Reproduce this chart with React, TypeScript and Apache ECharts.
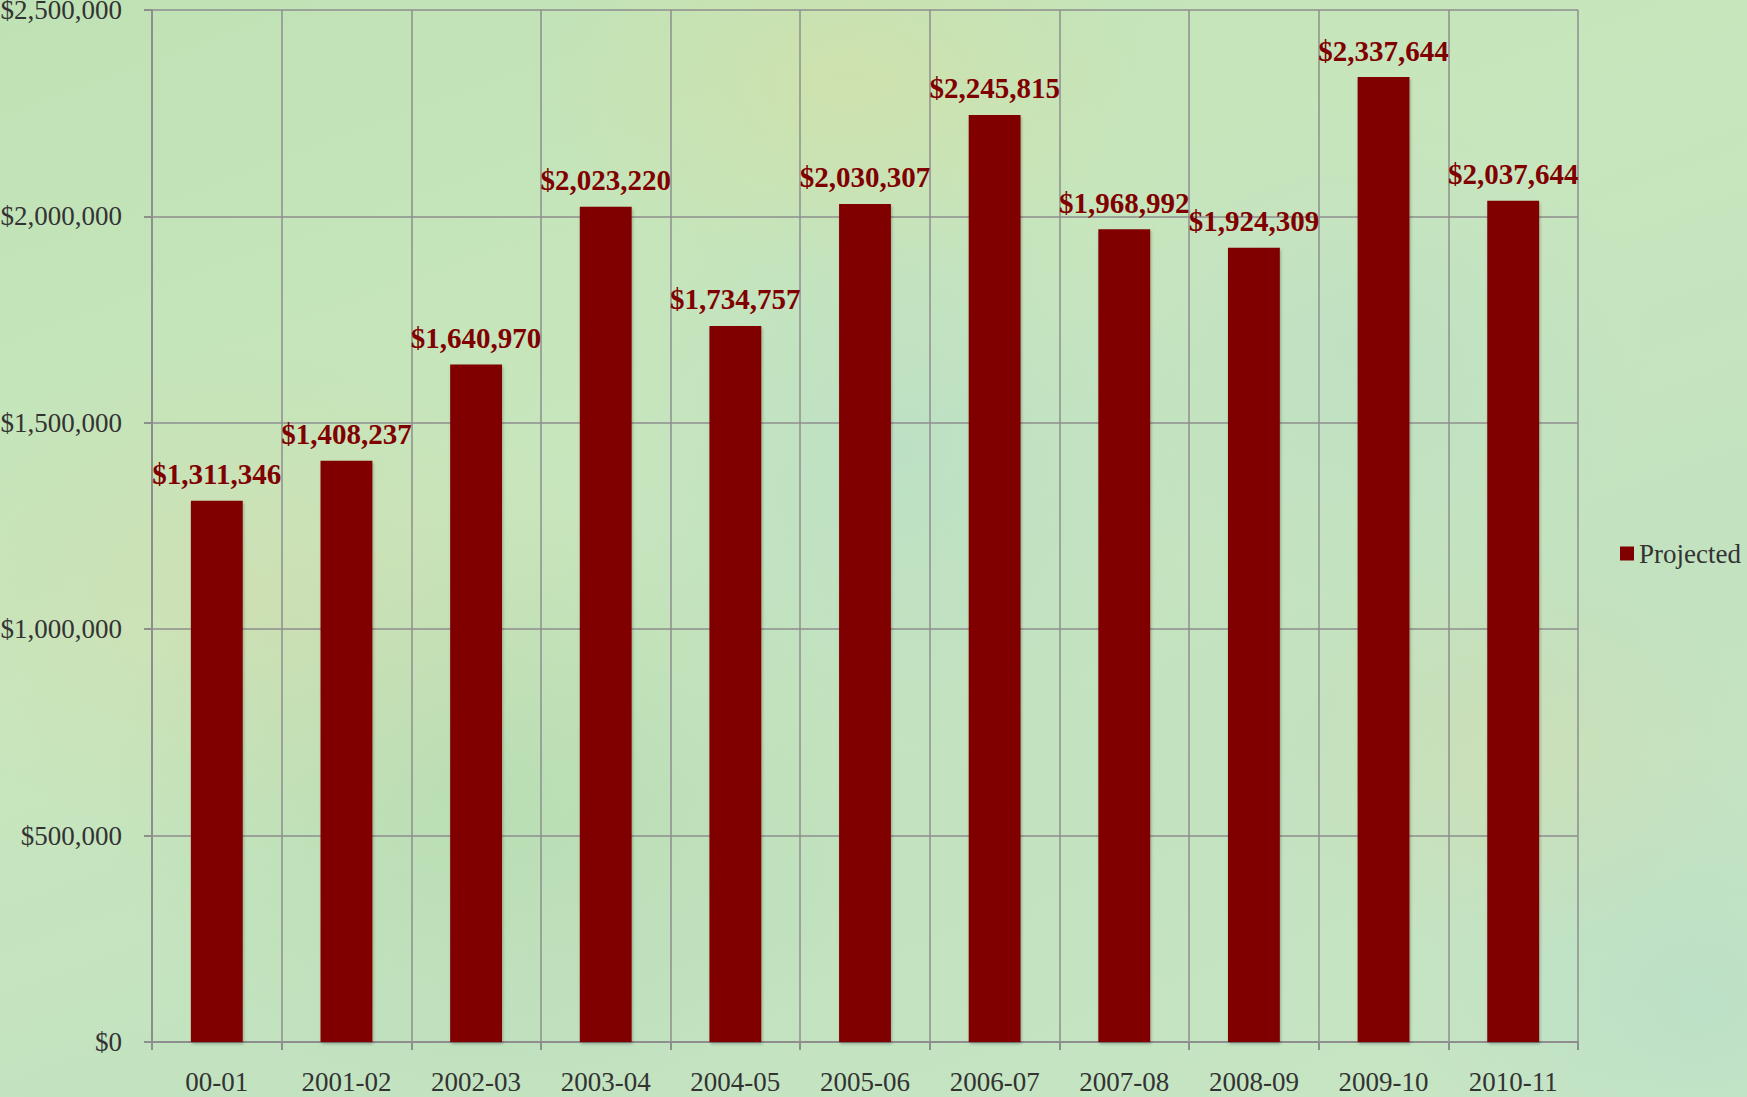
import React, { useEffect, useRef } from "react";
import * as echarts from "echarts";

const categories = ["00-01", "2001-02", "2002-03", "2003-04", "2004-05", "2005-06", "2006-07", "2007-08", "2008-09", "2009-10", "2010-11"];
const projected = [1311346, 1408237, 1640970, 2023220, 1734757, 2030307, 2245815, 1968992, 1924309, 2337644, 2037644];
const yTicks = { min: 0, max: 2500000, interval: 500000 };

const fmt = (v: number) => "$" + Math.round(v).toLocaleString("en-US");

export default function App() {
  const ref = useRef<HTMLDivElement>(null);
  useEffect(() => {
    if (!ref.current) return;
    const chart = echarts.init(ref.current, undefined, { renderer: "svg" });
    const font = "'Liberation Serif', 'Times New Roman', serif";
    chart.setOption({
      animation: false,
      backgroundColor: "transparent",
      textStyle: { fontFamily: font },
      grid: {
        left: 152,
        right: 1747 - 1578,
        top: 10,
        bottom: 1097 - 1042,
        containLabel: false,
        outerBoundsMode: "none",
      },
      legend: {
        show: true,
        orient: "vertical",
        left: 1620,
        top: 540,
        padding: 0,
        itemWidth: 14,
        itemHeight: 14,
        icon: "rect",
        textStyle: { fontFamily: font, fontSize: 27, color: "#333" },
        data: ["Projected"],
      },
      xAxis: {
        type: "category",
        data: categories,
        boundaryGap: true,
        axisLine: { show: true, lineStyle: { color: "#8e8e8e", width: 2 } },
        axisTick: { show: true, length: 8, lineStyle: { color: "#8e8e8e", width: 2 } },
        axisLabel: { fontFamily: font, fontSize: 27, color: "#333", margin: 26, interval: 0 },
        splitLine: { show: true, interval: 0, lineStyle: { color: "#8e8e8e", width: 1.5 } },
      },
      yAxis: {
        type: "value",
        min: yTicks.min,
        max: yTicks.max,
        interval: yTicks.interval,
        axisLine: { show: true, lineStyle: { color: "#8e8e8e", width: 2 } },
        axisTick: { show: true, length: 8, lineStyle: { color: "#8e8e8e", width: 2 } },
        axisLabel: { fontFamily: font, fontSize: 27, color: "#333", margin: 30, formatter: (v: number) => fmt(v) },
        splitLine: { show: true, lineStyle: { color: "#8e8e8e", width: 1.5 } },
      },
      series: [
        {
          name: "Projected",
          type: "bar",
          data: projected,
          barWidth: "40%",
          itemStyle: {
            color: "#800000",
            shadowColor: "rgba(0,0,0,0.25)",
            shadowBlur: 3,
            shadowOffsetX: 1,
            shadowOffsetY: 2,
          },
          label: {
            show: true,
            position: "top",
            distance: 12,
            fontFamily: font,
            fontSize: 29,
            fontWeight: "bold",
            color: "#800000",
            formatter: (p: any) => fmt(p.value),
          },
        },
      ],
    });
    return () => chart.dispose();
  }, []);
  const bg = [
    "radial-gradient(ellipse 300px 200px at 850px 80px, rgba(225,220,150,0.35), transparent)",
    "radial-gradient(ellipse 350px 250px at 250px 600px, rgba(220,210,160,0.3), transparent)",
    "radial-gradient(ellipse 300px 300px at 900px 450px, rgba(170,215,210,0.35), transparent)",
    "radial-gradient(ellipse 300px 250px at 1350px 350px, rgba(175,215,205,0.3), transparent)",
    "radial-gradient(ellipse 250px 200px at 1500px 750px, rgba(220,215,165,0.3), transparent)",
    "radial-gradient(ellipse 400px 300px at 500px 800px, rgba(165,210,160,0.35), transparent)",
    "radial-gradient(ellipse 300px 250px at 1700px 1000px, rgba(170,215,205,0.35), transparent)",
    "linear-gradient(160deg, #bfe2b5 0%, #c8e6bd 40%, #c2e2c0 70%, #c8e6c4 100%)",
  ].join(",");
  return (
    <div
      style={{ position: "fixed", left: 0, top: 0, width: 1747, height: 1097, background: bg }}
    >
      <div ref={ref} style={{ width: 1747, height: 1097 }} />
    </div>
  );
}
